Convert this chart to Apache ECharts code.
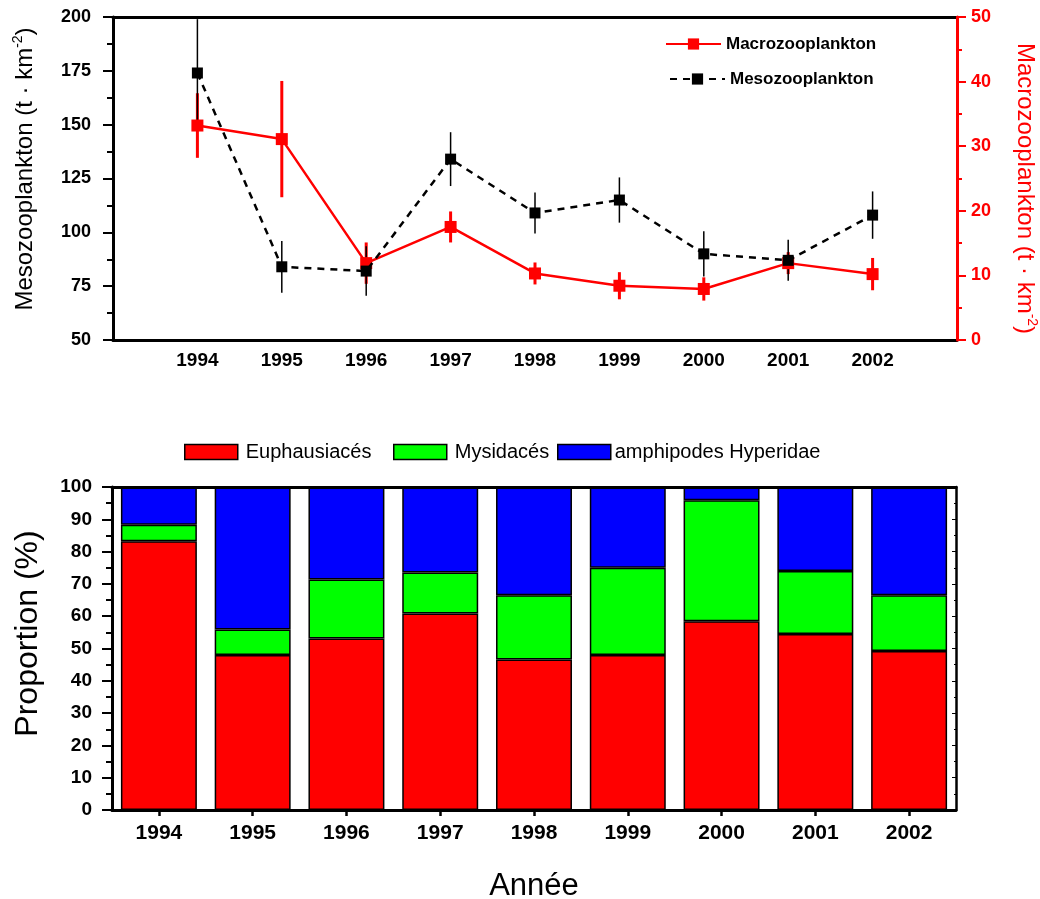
<!DOCTYPE html>
<html><head><meta charset="utf-8">
<script src="https://cdn.jsdelivr.net/npm/echarts@6/dist/echarts.min.js"></script>
<style>html,body{margin:0;padding:0;background:#fff}#c{width:1040px;height:899px}</style>
</head><body><div id="c"></div>
<script>
// ---- data ----
const years = ['1994','1995','1996','1997','1998','1999','2000','2001','2002'];
const mesoValues = [174, 84, 82, 134, 109, 115, 90, 87, 108];
const mesoErr    = [25, 12, 11.5, 12.5, 9.5, 10.5, 10.5, 9.5, 11];
const macroValues = [33.2, 31.1, 11.9, 17.5, 10.3, 8.4, 7.9, 11.9, 10.2];
const macroErr    = [5, 9, 3.2, 2.4, 1.7, 2.1, 1.8, 1.7, 2.5];
const euphausiaces = [83.2, 48.0, 53.1, 60.8, 46.6, 48.0, 58.4, 54.5, 49.2];
const mysidaces    = [5.1, 7.9, 18.3, 12.7, 19.9, 27.0, 37.5, 19.5, 17.3];
const hyperidae    = [11.7, 44.1, 28.6, 26.5, 33.5, 25.0, 4.1, 26.0, 33.5];
const leftTicks = {min: 50, max: 200, interval: 25};
const rightTicks = {min: 0, max: 50, interval: 10};
const propTicks = {min: 0, max: 100, interval: 10};

const F = "'Liberation Sans', Arial, Helvetica, sans-serif";
const chart = echarts.init(document.getElementById('c'));

function pts(vals) { return years.map((y, i) => [Number(y), vals[i]]); }
function errSeries(vals, errs, yIdx, color, width, z) {
  return {
    type: 'custom', xAxisIndex: 0, yAxisIndex: yIdx, z: z, silent: true,
    data: years.map((y, i) => [Number(y), vals[i] - errs[i], vals[i] + errs[i]]),
    encode: {x: 0, y: [1, 2]},
    renderItem: function (params, api) {
      const x = api.value(0);
      const p1 = api.coord([x, api.value(1)]);
      const p2 = api.coord([x, api.value(2)]);
      return {type: 'line', shape: {x1: p1[0], y1: p1[1], x2: p2[0], y2: p2[1]},
        style: {stroke: color, lineWidth: width}};
    }
  };
}
const blackLine = {lineStyle: {color: '#000', width: 3}};
const tickLbl = {fontFamily: F, fontWeight: 'bold', color: '#000'};

const option = {
  animation: false,
  backgroundColor: '#fff',
  grid: [
    {left: 113, right: 83, top: 17, height: 323, outerBoundsMode: 'none', containLabel: false},
    {left: 112, right: 84, top: 487, height: 323, outerBoundsMode: 'none', containLabel: false}
  ],
  legend: [
    {left: 660, top: 30, data: ['Macrozooplankton'], itemWidth: 55, itemHeight: 14,
     textStyle: {fontFamily: F, fontSize: 17, fontWeight: 'bold', color: '#000', lineHeight: 18}},
    {left: 664, top: 65, data: ['Mesozooplankton'], itemWidth: 55, itemHeight: 14,
     textStyle: {fontFamily: F, fontSize: 17, fontWeight: 'bold', color: '#000', lineHeight: 18}},
    {left: 179, top: 437, data: ['Euphausiacés'], itemWidth: 53, itemHeight: 15, icon: 'rect',
     itemStyle: {borderColor: '#000', borderWidth: 1.5},
     textStyle: {fontFamily: F, fontSize: 20, color: '#000', lineHeight: 20, padding: [0, 0, 0, 3]}},
    {left: 388, top: 437, data: ['Mysidacés'], itemWidth: 53, itemHeight: 15, icon: 'rect',
     itemStyle: {borderColor: '#000', borderWidth: 1.5},
     textStyle: {fontFamily: F, fontSize: 20, color: '#000', lineHeight: 20, padding: [0, 0, 0, 3]}},
    {left: 552, top: 437, data: ['amphipodes Hyperidae'], itemWidth: 53, itemHeight: 15, icon: 'rect',
     itemStyle: {borderColor: '#000', borderWidth: 1.5},
     textStyle: {fontFamily: F, fontSize: 20, color: '#000', lineHeight: 20, padding: [0, 0, 0, -1]}}
  ],
  xAxis: [
    {gridIndex: 0, type: 'value', min: 1993, max: 2003, interval: 1, z: 5,
     axisLine: {show: true, onZero: false, lineStyle: {color: '#000', width: 3}},
     axisTick: {show: false}, splitLine: {show: false},
     axisLabel: Object.assign({fontSize: 19, margin: 11,
       formatter: v => (v >= 1994 && v <= 2002) ? String(v) : ''}, tickLbl)},
    {gridIndex: 0, type: 'value', min: 1993, max: 2003, position: 'top', z: 5,
     axisLine: Object.assign({show: true, onZero: false}, blackLine),
     axisTick: {show: false}, axisLabel: {show: false}, splitLine: {show: false}},
    {gridIndex: 1, type: 'category', data: years, z: 5,
     axisLine: Object.assign({show: true, onZero: false}, blackLine),
     axisTick: {show: true, alignWithLabel: true, length: 6, lineStyle: {color: '#000', width: 2.5}},
     axisLabel: Object.assign({fontSize: 21, margin: 13}, tickLbl),
     name: 'Année', nameLocation: 'middle', nameGap: 61,
     nameTextStyle: {fontFamily: F, fontSize: 31, color: '#000'}},
    {gridIndex: 1, type: 'category', data: years, position: 'top', z: 5,
     axisLine: Object.assign({show: true, onZero: false}, blackLine),
     axisTick: {show: false}, axisLabel: {show: false}}
  ],
  yAxis: [
    {gridIndex: 0, type: 'value', min: leftTicks.min, max: leftTicks.max, interval: leftTicks.interval,
     position: 'left', z: 5,
     axisLine: Object.assign({show: true}, blackLine),
     axisTick: {show: true, length: 10, lineStyle: {color: '#000', width: 2}},
     minorTick: {show: true, splitNumber: 2, length: 6, lineStyle: {color: '#000', width: 2}},
     splitLine: {show: false},
     axisLabel: Object.assign({fontSize: 18, margin: 22}, tickLbl),
     name: '{a|Mesozooplankton (t · km}{s|-2}{a|)}', nameLocation: 'middle', nameRotate: 90, nameGap: 74,
     nameTextStyle: {fontFamily: F, color: '#000', padding: [0, 0, 0, 19],
       rich: {a: {fontFamily: F, fontSize: 24, color: '#000', lineHeight: 28},
              s: {fontFamily: F, fontSize: 14, color: '#000', verticalAlign: 'top'}}}},
    {gridIndex: 0, type: 'value', min: rightTicks.min, max: rightTicks.max, interval: rightTicks.interval,
     position: 'right', z: 6,
     axisLine: {show: true, lineStyle: {color: '#ff0000', width: 3}},
     axisTick: {show: true, length: 9, lineStyle: {color: '#ff0000', width: 2}},
     minorTick: {show: true, splitNumber: 2, length: 5, lineStyle: {color: '#ff0000', width: 2}},
     splitLine: {show: false},
     axisLabel: {fontFamily: F, fontWeight: 'bold', color: '#ff0000', fontSize: 18, margin: 14},
     name: '{a|Macrozooplankton (t · km}{s|-2}{a|)}', nameLocation: 'middle', nameRotate: -90, nameGap: 54,
     nameTextStyle: {fontFamily: F, color: '#ff0000', padding: [0, 0, 0, 20],
       rich: {a: {fontFamily: F, fontSize: 24, color: '#ff0000', lineHeight: 28},
              s: {fontFamily: F, fontSize: 14, color: '#ff0000', verticalAlign: 'top'}}}},
    {gridIndex: 1, type: 'value', min: propTicks.min, max: propTicks.max, interval: propTicks.interval,
     position: 'left', z: 5,
     axisLine: Object.assign({show: true}, blackLine),
     axisTick: {show: true, length: 10, lineStyle: {color: '#000', width: 2}},
     minorTick: {show: true, splitNumber: 2, length: 6, lineStyle: {color: '#000', width: 2}},
     splitLine: {show: false},
     axisLabel: Object.assign({fontSize: 19, margin: 20}, tickLbl),
     name: 'Proportion (%)', nameLocation: 'middle', nameGap: 68,
     nameTextStyle: {fontFamily: F, fontSize: 32, color: '#000', padding: [0, 0, 0, 30]}},
    {gridIndex: 1, type: 'value', min: propTicks.min, max: propTicks.max, interval: propTicks.interval,
     position: 'right', z: 5,
     axisLine: {show: true, lineStyle: {color: '#000', width: 2.5}},
     axisTick: {show: true, inside: true, length: 4, lineStyle: {color: '#000', width: 1}},
     minorTick: {show: true, splitNumber: 2, length: 2, lineStyle: {color: '#000', width: 1}},
     splitLine: {show: false}, axisLabel: {show: false}}
  ],
  series: [
    errSeries(macroValues, macroErr, 1, '#ff0000', 3, 2),
    errSeries(mesoValues, mesoErr, 0, '#000', 1.5, 3),
    {name: 'Macrozooplankton', type: 'line', xAxisIndex: 0, yAxisIndex: 1, z: 4,
     data: pts(macroValues), symbol: 'rect', symbolSize: 12,
     itemStyle: {color: '#ff0000'}, lineStyle: {color: '#ff0000', width: 2.5}},
    {name: 'Mesozooplankton', type: 'line', xAxisIndex: 0, yAxisIndex: 0, z: 5,
     data: pts(mesoValues), symbol: 'rect', symbolSize: 11,
     itemStyle: {color: '#000'}, lineStyle: {color: '#000', width: 2.5, type: [7, 6]}},
    {name: 'Euphausiacés', type: 'bar', xAxisIndex: 2, yAxisIndex: 2, stack: 'p', data: euphausiaces,
     barCategoryGap: '19%', itemStyle: {color: '#ff0000', borderColor: '#000', borderWidth: 1.5}},
    {name: 'Mysidacés', type: 'bar', xAxisIndex: 2, yAxisIndex: 2, stack: 'p', data: mysidaces,
     barCategoryGap: '19%', itemStyle: {color: '#00ff00', borderColor: '#000', borderWidth: 1.5}},
    {name: 'amphipodes Hyperidae', type: 'bar', xAxisIndex: 2, yAxisIndex: 2, stack: 'p', data: hyperidae,
     barCategoryGap: '19%', itemStyle: {color: '#0000ff', borderColor: '#000', borderWidth: 1.5}}
  ]
};
chart.setOption(option);
</script>
</body></html>
